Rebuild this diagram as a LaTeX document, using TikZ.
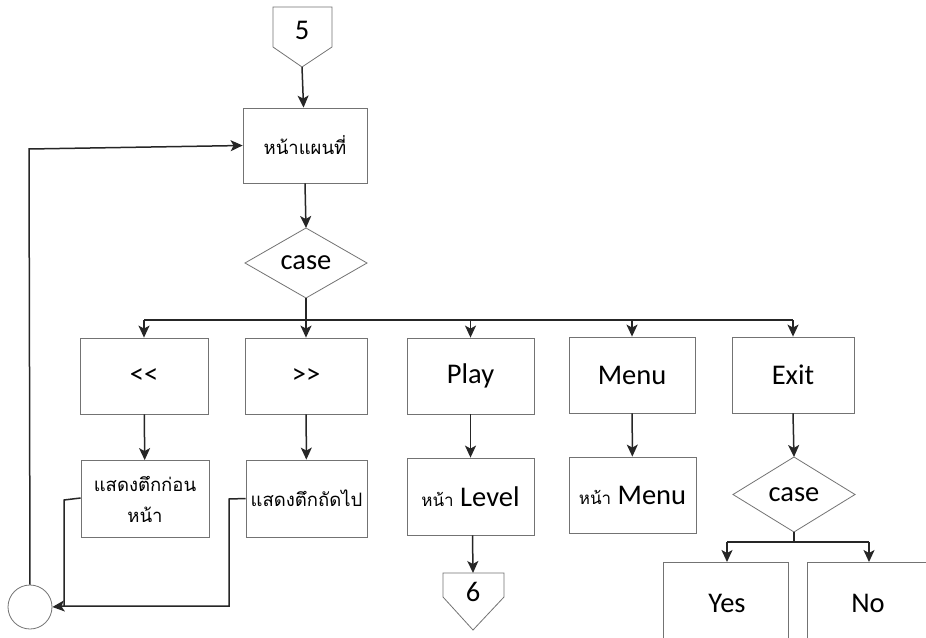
\documentclass[tikz,border=0pt]{standalone}
\usepackage{fontspec}
\setmainfont{Carlito}
\newfontfamily\thaifont[Script=Thai]{Loma}
\usetikzlibrary{arrows.meta,calc}

\tikzset{
  boxline/.style={draw=black!55, line width=0.8pt},
  procbox/.style={boxline, rectangle, inner sep=0pt, align=center,
    font=\fontsize{28.5}{32}\selectfont},
  flow/.style={draw=black!85, line width=1.5pt,
    -{Stealth[length=12pt,width=11pt,inset=3pt]}},
  plainflow/.style={draw=black!85, line width=1.5pt},
  lbl/.style={inner sep=0pt, font=\fontsize{28.5}{32}\selectfont},
  th/.style={font=\thaifont\fontsize{18.5}{31}\selectfont},
}

\begin{document}
\begin{tikzpicture}[x=1pt,y=-1pt]
  \useasboundingbox[fill=white] (0,0) rectangle (926,637);

  % off-page connector 5
  \draw[boxline] (273,7) -- (332,7) -- (332,47) -- (302,67) -- (273,47) -- cycle;
  \node[lbl] (p5) at (302,30) {5};
  \coordinate (p5tip) at (302,67);

  % map page
  \node[procbox, th, minimum width=124pt, minimum height=75pt] (map) at (305,145.5) {หน้าแผนที่};

  % first decision
  \draw[boxline] (306,228) -- (367,263) -- (306,298) -- (245,263) -- cycle;
  \node[lbl] (case1) at (306,263) {case};
  \coordinate (case1n) at (306,228);
  \coordinate (case1s) at (306,298);
  \coordinate (bus1) at (306,320);

  % first row
  \node[procbox, minimum width=128pt, minimum height=76pt] (lt)   at (144,376) {<{}<};
  \node[procbox, minimum width=122pt, minimum height=76pt] (gt)   at (306,376) {>{}>};
  \node[procbox, minimum width=127pt, minimum height=76pt] (play) at (470.5,376) {Play};
  \node[procbox, minimum width=126pt, minimum height=76pt] (menu) at (632,375) {Menu};
  \node[procbox, minimum width=122pt, minimum height=76pt] (exit) at (793,375) {Exit};

  % second row
  \node[procbox, th, minimum width=128pt, minimum height=77pt] (prev) at (145,499) {แสดงตึกก่อน\\หน้า};
  \node[procbox, th, minimum width=121pt, minimum height=77pt] (next) at (306.5,498.5) {แสดงตึกถัดไป};
  \node[procbox, minimum width=127pt, minimum height=77pt] (level) at (470.5,496.5)
    {{\thaifont\fontsize{17}{20}\selectfont หน้า} Level};
  \node[procbox, minimum width=127pt, minimum height=76pt] (mpage) at (632.5,495)
    {{\thaifont\fontsize{17}{20}\selectfont หน้า} Menu};

  % second decision
  \draw[boxline] (794,457) -- (855,494.5) -- (794,532) -- (733,494.5) -- cycle;
  \node[lbl] (case2) at (794,494.5) {case};
  \coordinate (case2n) at (794,457);
  \coordinate (case2s) at (794,532);
  \coordinate (bus2) at (794,542);

  % answers, running past the lower edge
  \draw[boxline] (663,660) -- (663,562) -- (788,562) -- (788,660);
  \node[lbl] (yes) at (727,603) {Yes};
  \coordinate (yesn) at (727,562);
  \draw[boxline] (807,660) -- (807,562) -- (935,562);
  \node[lbl] (no) at (868,603) {No};
  \coordinate (non) at (869,562);

  % off-page connector 6
  \draw[boxline] (443,573) -- (504,573) -- (504,597) -- (473,630) -- (443,597) -- cycle;
  \node[lbl] (p6) at (473,592) {6};
  \coordinate (p6top) at (473,573);

  % on-page connector
  \node[boxline, circle, minimum size=44pt, inner sep=0pt] (conn) at (30,607) {};

  % main flow
  \draw[flow] (p5tip) -- (map);
  \draw[flow] (map.south) -- (case1n);
  \draw[plainflow] (case1s) -- (bus1);
  \draw[plainflow] (lt.north |- bus1) -- (exit.north |- bus1);
  \foreach \n in {lt,gt,play,menu,exit}
    \draw[flow] (\n.north |- bus1) -- (\n.north);

  \draw[flow] (lt) -- (prev);
  \draw[flow] (gt) -- (next);
  \draw[flow] (play) -- (level);
  \draw[flow] (menu) -- (mpage);
  \draw[flow] (exit.south) -- (case2n);
  \draw[flow] ([xshift=2pt]level.south) -- (p6top);

  % exit decision branches
  \draw[plainflow] (case2s) -- (bus2);
  \draw[plainflow] (yesn |- bus2) -- (non |- bus2);
  \draw[flow] (yesn |- bus2) -- (yesn);
  \draw[flow] (non |- bus2) -- (non);

  % return loop
  \draw[plainflow] ([yshift=1pt]prev.west) -- (64,500) -- (64,606);
  \draw[plainflow] (next.west) -- (229,499) -- (229,606) -- (64,606);
  \draw[flow] (64,606) -- (conn.east);
  \draw[flow] (conn.north) -- (29,149) -- (map.west);
\end{tikzpicture}
\end{document}
